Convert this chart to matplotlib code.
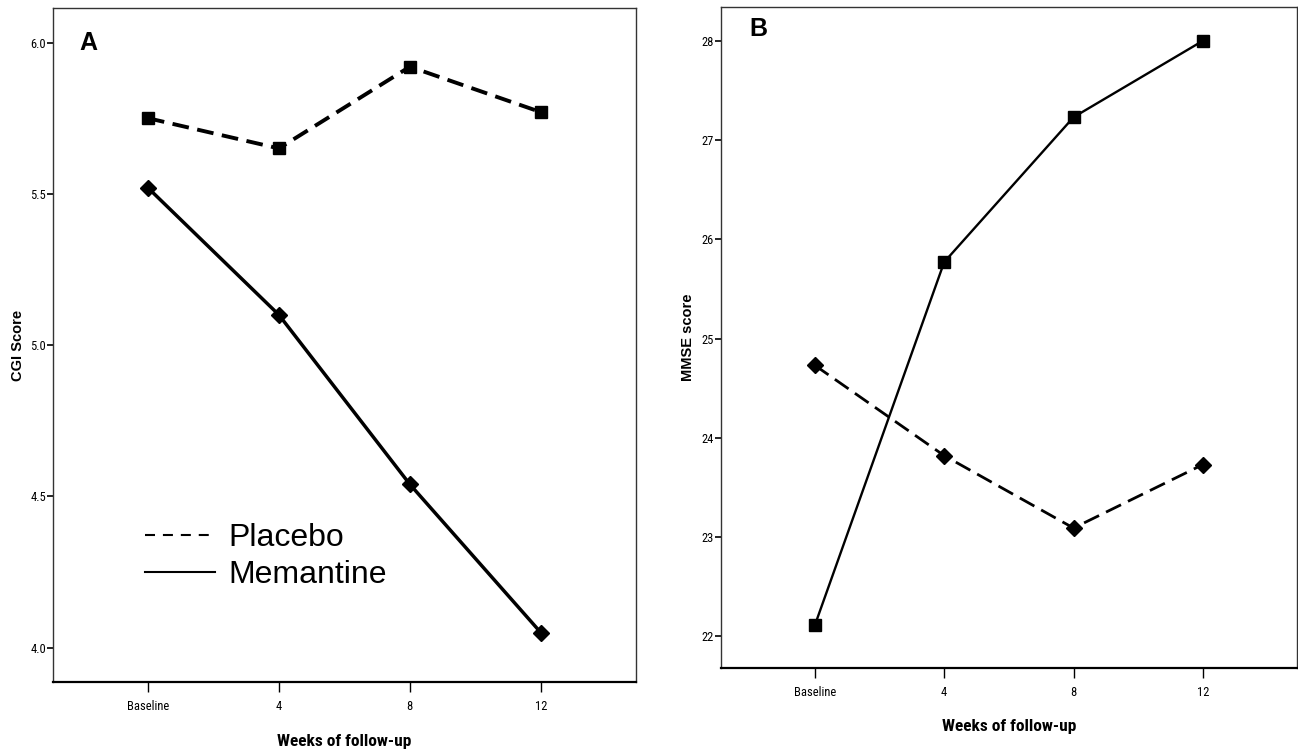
import matplotlib
matplotlib.use("Agg")
import matplotlib.pyplot as plt
from matplotlib.lines import Line2D

# Data
weeks = ["Baseline", "4", "8", "12"]

cgi_placebo = [5.75, 5.65, 5.92, 5.77]
cgi_memantine = [5.52, 5.10, 4.54, 4.05]
cgi_ticks = [4.0, 4.5, 5.0, 5.5, 6.0]

mmse_squares = [22.11, 25.77, 27.23, 28.00]
mmse_diamonds = [24.73, 23.82, 23.09, 23.73]
mmse_ticks = [22, 23, 24, 25, 26, 27, 28]

NARROW = ["Liberation Sans Narrow", "Roboto Condensed", "Archivo Narrow", "DejaVu Sans"]
SANS = ["Liberation Sans", "Arimo", "Arial", "DejaVu Sans"]

fig = plt.figure(figsize=(12.98, 7.56), dpi=100)
ax_a = fig.add_axes([0.0408, 0.098, 0.449, 0.891])
ax_b = fig.add_axes([0.5555, 0.1164, 0.4435, 0.8743])

x = list(range(len(weeks)))


def style_axes(ax, ticks, fmt, labelpad):
    ax.set_xlim(-0.725, 3.725)
    ax.set_xticks(x)
    ax.set_xticklabels(weeks, family=NARROW, fontsize=9)
    ax.set_yticks(ticks)
    ax.set_yticklabels([fmt.format(t) for t in ticks], family=NARROW, fontsize=9)
    ax.tick_params(axis="y", direction="out", length=4, width=1.2, pad=1)
    ax.tick_params(axis="x", direction="out", length=7, width=1, pad=6)
    for sp in ax.spines.values():
        sp.set_color("#333333")
        sp.set_linewidth(1.0)
    ax.spines["bottom"].set_linewidth(1.6)
    ax.spines["bottom"].set_color("black")
    ax.set_xlabel("Weeks of follow-up", family=NARROW, fontsize=12.5,
                  fontweight="bold", labelpad=labelpad)


# Panel A: CGI score
ax_a.plot(x, cgi_placebo, color="black", lw=2.8, ls=(0, (4.3, 2.2)),
          marker="s", ms=8.5, mfc="black", mec="black")
ax_a.plot(x, cgi_memantine, color="black", lw=2.5, ls="-",
          marker="D", ms=8.5, mfc="black", mec="black")
ax_a.set_ylim(3.887, 6.113)
style_axes(ax_a, cgi_ticks, "{:.1f}", 15)
ax_a.set_ylabel("CGI Score", family=SANS, fontsize=10.5, fontweight="bold", labelpad=4)
ax_a.text(0.045, 0.967, "A", transform=ax_a.transAxes, fontsize=18,
          fontweight="bold", family=SANS, va="top", ha="left")

handles = [Line2D([], [], color="black", lw=1.5, ls=(0, (4.8, 3.8))),
           Line2D([], [], color="black", lw=1.5, ls="-")]
ax_a.legend(handles, ["Placebo", "Memantine"], loc="lower left",
            bbox_to_anchor=(0.158, 0.136), frameon=False,
            prop={"family": SANS, "size": 23}, handlelength=2.2,
            handletextpad=0.4, labelspacing=0.22, borderpad=0,
            borderaxespad=0)

# Panel B: MMSE score
ax_b.plot(x, mmse_squares, color="black", lw=1.7, ls="-",
          marker="s", ms=8.5, mfc="black", mec="black")
ax_b.plot(x, mmse_diamonds, color="black", lw=2.0, ls=(0, (6, 2.8)),
          marker="D", ms=8.5, mfc="black", mec="black")
ax_b.set_ylim(21.68, 28.34)
style_axes(ax_b, mmse_ticks, "{:d}", 14)
ax_b.set_ylabel("MMSE score", family=SANS, fontsize=10.5, fontweight="bold", labelpad=5)
ax_b.text(0.05, 0.985, "B", transform=ax_b.transAxes, fontsize=18,
          fontweight="bold", family=SANS, va="top", ha="left")

fig.savefig("out.png", dpi=100)
